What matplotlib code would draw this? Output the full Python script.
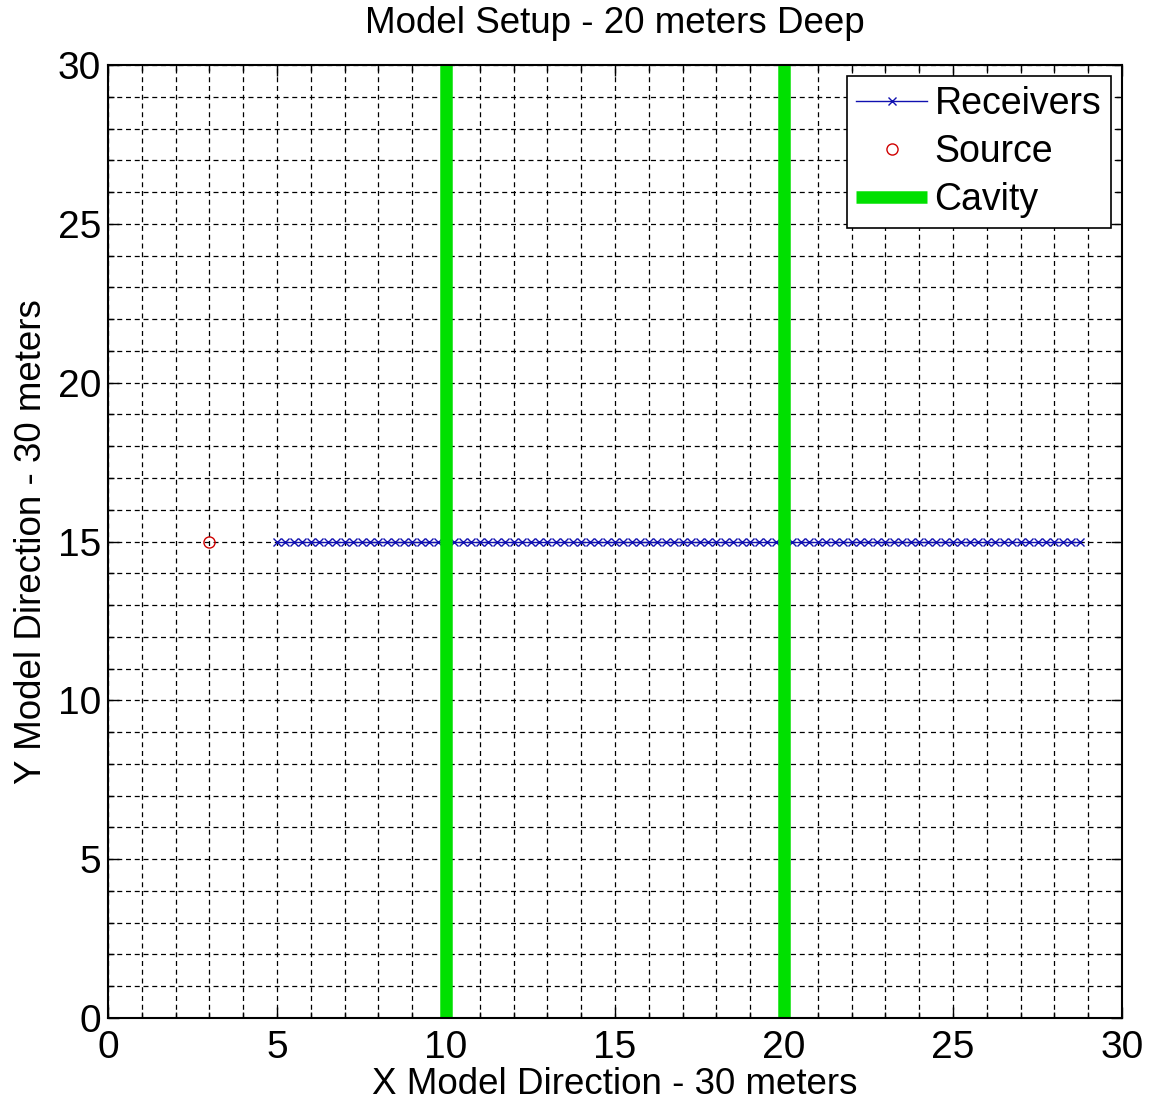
import numpy as np
import matplotlib
matplotlib.use("Agg")
import matplotlib.pyplot as plt
from matplotlib.ticker import MultipleLocator

plt.rcParams['font.family'] = ['Liberation Sans', 'DejaVu Sans']

# Survey geometry (meters)
receiver_x = np.arange(5.0, 28.76, 0.25)
receiver_y = np.full_like(receiver_x, 15.0)
source_x = [3.0]
source_y = [15.0]
cavity_x = [10.0, 20.0]
cavity_y = [0.0, 30.0]

fig = plt.figure(figsize=(11.55, 11.05), dpi=100)
ax = fig.add_axes([108/1155, 1 - 1018/1105, (1122-108)/1155, (1018-65)/1105])

ax.plot(receiver_x, receiver_y, color='#1010b0', lw=1.0, marker='x', ms=6,
        mew=1.0, label='Receivers')
ax.plot(source_x, source_y, ls='none', marker='o', mfc='none', mec='#d00000',
        ms=8, mew=1.0, label='Source')
for i, cx in enumerate(cavity_x):
    ax.plot([cx, cx], cavity_y, color='#00e000', lw=9, solid_capstyle='butt',
            label='Cavity' if i == 0 else None)

ax.set_xlim(0, 30)
ax.set_ylim(0, 30)
ax.xaxis.set_major_locator(MultipleLocator(5))
ax.yaxis.set_major_locator(MultipleLocator(5))
ax.xaxis.set_minor_locator(MultipleLocator(1))
ax.yaxis.set_minor_locator(MultipleLocator(1))
ax.grid(which='both', color='black', ls=(0, (4, 3)), lw=0.9)
ax.set_axisbelow(True)
ax.tick_params(which='both', direction='in', top=True, right=True,
               labelsize=28, width=1.0)
ax.tick_params(which='major', length=8)
ax.tick_params(which='minor', length=4)
ax.tick_params(axis='x', which='major', pad=9)
ax.tick_params(axis='y', which='major', pad=5)
for s in ax.spines.values():
    s.set_linewidth(1.5)

ax.set_title('Model Setup - 20 meters Deep', fontsize=26.5, pad=23)
ax.set_xlabel('X Model Direction - 30 meters', fontsize=26.5, labelpad=0)
ax.set_ylabel('Y Model Direction - 30 meters', fontsize=26.5, labelpad=6)

leg = ax.legend(loc='upper right', fontsize=27, frameon=True, fancybox=False,
                edgecolor='black', framealpha=1, handlelength=1.9,
                borderpad=0.25, labelspacing=0.33, handletextpad=0.2,
                borderaxespad=0.3)
leg.get_frame().set_linewidth(1.2)

fig.savefig('out.png', dpi=100)
